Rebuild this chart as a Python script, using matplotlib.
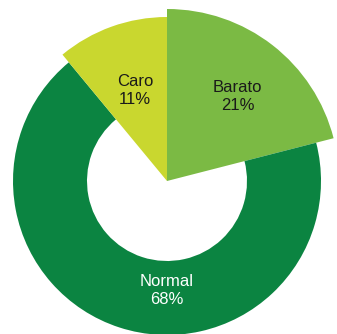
import math

import matplotlib

matplotlib.use("Agg")

import matplotlib.pyplot as plt
from matplotlib.patches import Wedge

# Share of answers per price perception
labels = ["Barato", "Normal", "Caro"]
shares = [21, 68, 11]
colors = ["#7bba44", "#0b8441", "#c9d72f"]
text_colors = ["#1a1a1a", "#ffffff", "#1a1a1a"]

W, H = 337, 334
CX, CY = 167, 153          # centre of the ring
R_RING, R_HOLE = 154, 80   # Normal ring radii
R_OUT = {"Barato": 172, "Caro": 164}

fig = plt.figure(figsize=(W / 100, H / 100), dpi=100)
ax = fig.add_axes([0, 0, 1, 1])
ax.set_xlim(0, W)
ax.set_ylim(0, H)
ax.set_aspect("equal")
ax.axis("off")

# slices run clockwise from 12 o'clock
total = sum(shares)
start = 90.0
spans = {}
for lab, val in zip(labels, shares):
    sweep = 360.0 * val / total
    spans[lab] = (start - sweep, start)
    start -= sweep

for lab, col in zip(labels, colors):
    t1, t2 = spans[lab]
    if lab == "Normal":
        w = Wedge((CX, CY), R_RING, t1, t2, width=R_RING - R_HOLE, facecolor=col, edgecolor="none")
    else:
        w = Wedge((CX, CY), R_OUT[lab], t1, t2, facecolor=col, edgecolor="none")
    ax.add_patch(w)

# label anchors (angle in degrees, distance from centre)
label_pos = {"Barato": (50.0, 110), "Caro": (109.5, 96), "Normal": (270, 110)}

for lab, val, tc in zip(labels, shares, text_colors):
    ang, dist = label_pos[lab]
    x = CX + dist * math.cos(math.radians(ang))
    y = CY + dist * math.sin(math.radians(ang))
    ax.text(x, y, f"{lab}\n{val}%", ha="center", va="center", color=tc,
            fontsize=12, family="Liberation Sans", linespacing=1.25)

fig.savefig("out.png", dpi=100)
